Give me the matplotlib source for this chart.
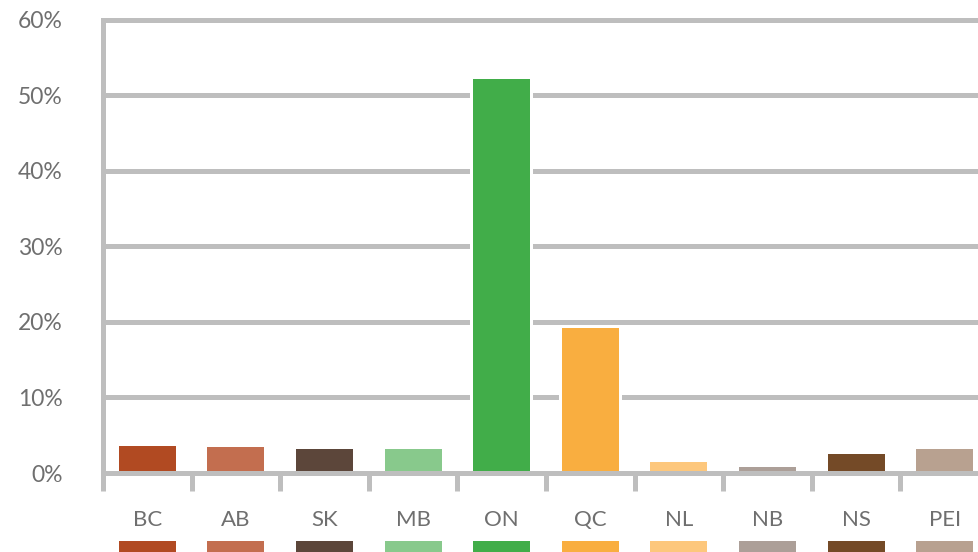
import numpy as np
import matplotlib
matplotlib.use("Agg")
import matplotlib.pyplot as plt

plt.rcParams['font.family'] = ['Lato', 'DejaVu Sans']

# provinces and their share (%)
provinces = ["BC", "AB", "SK", "MB", "ON", "QC", "NL", "NB", "NS", "PEI"]
shares = [3.6, 3.4, 3.2, 3.2, 52.2, 19.2, 1.5, 0.8, 2.5, 3.2]
colors = ["#b14a22", "#c36e4f", "#5c463a", "#88c98c", "#41ad49",
          "#f9ae40", "#fdc77c", "#ac9f98", "#744a27", "#b8a190"]
yticks = [0, 10, 20, 30, 40, 50, 60]
ytick_labels = ["0%", "10%", "20%", "30%", "40%", "50%", "60%"]

grey = "#bebebe"
text_grey = "#6f6f6f"

fig = plt.figure(figsize=(9.79, 5.52), dpi=100)
ax = fig.add_axes([103 / 979, 79 / 552, 886 / 979, 456.8 / 552])

x = np.arange(len(provinces))

# white halo behind bars so grid lines stop short of them
ax.bar(x, np.array(shares) + 0.4, width=0.71, color="white", zorder=2)
ax.bar(x, shares, width=0.643, color=colors, zorder=3)

# colour swatches below the labels
ax.bar(x, 3, bottom=-12, width=0.643, color=colors, clip_on=False, zorder=3)

for xi, name in zip(x, provinces):
    ax.text(xi, -6.2, name, ha="center", va="center", fontsize=16,
            color=text_grey, clip_on=False)

ax.set_xlim(-0.5, 9.5)
ax.set_ylim(0, 60.5)

ax.set_yticks(yticks)
ax.set_yticklabels(ytick_labels)
ax.tick_params(axis="y", length=0, pad=29, labelsize=16.5, labelcolor=text_grey)
for lab in ax.get_yticklabels():
    lab.set_y(lab.get_position()[1])

ax.set_xticks(np.arange(-0.5, 9.6, 1.0))
ax.set_xticklabels([])
ax.tick_params(axis="x", direction="out", length=13, width=3.6, color=grey)

ax.yaxis.grid(True, color=grey, linewidth=3.6, zorder=1)
ax.set_axisbelow(True)

for side in ["top", "right"]:
    ax.spines[side].set_visible(False)
ax.spines["left"].set_color(grey)
ax.spines["left"].set_linewidth(3.6)
ax.spines["left"].set_bounds(0, 60)
ax.spines["bottom"].set_color(grey)
ax.spines["bottom"].set_linewidth(3.6)
ax.spines["bottom"].set_zorder(4)

fig.savefig("out.png", dpi=100)
